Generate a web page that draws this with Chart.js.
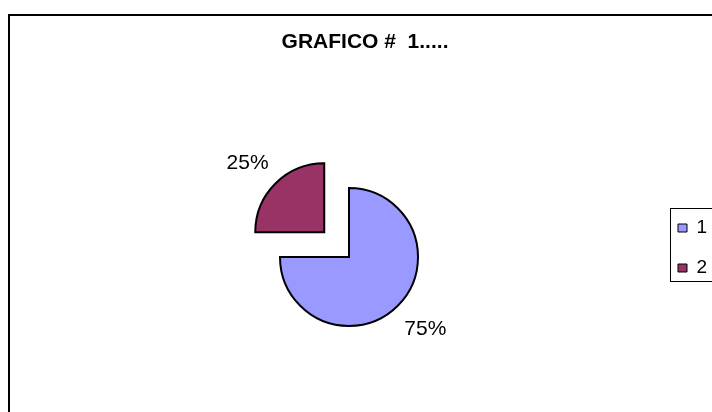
<!DOCTYPE html>
<html>
<head>
<meta charset="utf-8">
<script src="https://cdn.jsdelivr.net/npm/chart.js@4/dist/chart.umd.min.js"></script>
<style>
html,body{margin:0;padding:0;background:#fff;overflow:hidden;}
#wrap{position:relative;width:712px;height:412px;overflow:hidden;}
canvas{display:block;}
</style>
</head>
<body>
<div id="wrap"><canvas id="c" width="760" height="412"></canvas></div>
<script>
// ---- data ----
const categories = ['1', '2'];
const values = [75, 25];
const chartTitle = 'GRAFICO #  1.....';

// ---- styling ----
const sliceColors = ['#9999FF', '#993366'];
const FONT = '"Liberation Sans", Arial, Helvetica, sans-serif';
const LABEL_GAP = 16;
const LABEL_TILT = 3.5 * Math.PI / 180;

Chart.defaults.font.family = FONT;
Chart.defaults.color = '#000';

const framePlugin = {
  id: 'frame',
  beforeDraw(chart) {
    const ctx = chart.ctx;
    ctx.save();
    ctx.strokeStyle = '#000';
    ctx.lineWidth = 2;
    ctx.strokeRect(9, 15, chart.width + 40, chart.height + 40);
    ctx.restore();
  },
  afterDraw(chart) {
    const lg = chart.legend;
    if (!lg || !lg.legendHitBoxes || !lg.legendHitBoxes.length) return;
    const hb = lg.legendHitBoxes;
    const first = hb[0], last = hb[hb.length - 1];
    const fs = lg.options.labels.font.size;
    const left = first.left - 7.5;
    const top = first.top - 10;
    const bottom = last.top + fs + 4;
    const ctx = chart.ctx;
    ctx.save();
    ctx.strokeStyle = '#000';
    ctx.lineWidth = 1;
    ctx.strokeRect(left, top, 100, bottom - top);
    ctx.restore();
  }
};

const pctLabels = {
  id: 'pctLabels',
  afterDatasetsDraw(chart) {
    const ctx = chart.ctx;
    const meta = chart.getDatasetMeta(0);
    const vals = chart.data.datasets[0].data;
    const total = vals.reduce((a, b) => a + b, 0);
    ctx.save();
    ctx.font = '21px ' + FONT;
    ctx.fillStyle = '#000';
    ctx.textAlign = 'left';
    ctx.textBaseline = 'alphabetic';
    meta.data.forEach((arc, i) => {
      const p = arc.getProps(['x', 'y', 'startAngle', 'endAngle', 'outerRadius'], true);
      const mid = (p.startAngle + p.endAngle) / 2;
      const shift = (arc.options.offset || 0) / 4;
      const cx = p.x + Math.cos(mid) * shift;
      const cy = p.y + Math.sin(mid) * shift;
      const a = mid + LABEL_TILT;
      const ux = Math.cos(a), uy = Math.sin(a);
      const kx = cx + ux * (p.outerRadius + LABEL_GAP);
      const ky = cy + uy * (p.outerRadius + LABEL_GAP);
      const txt = Math.round(vals[i] / total * 100) + '%';
      const m = ctx.measureText(txt);
      const x = ux >= 0 ? kx + m.actualBoundingBoxLeft : kx - m.actualBoundingBoxRight;
      const y = uy >= 0 ? ky + m.actualBoundingBoxAscent : ky - m.actualBoundingBoxDescent;
      ctx.fillText(txt, x, y);
    });
    ctx.restore();
  }
};

new Chart(document.getElementById('c'), {
  type: 'pie',
  data: {
    labels: categories,
    datasets: [{
      data: values,
      backgroundColor: sliceColors,
      borderColor: '#000',
      borderWidth: 2,
      borderJoinStyle: 'miter',
      offset: [0, 140],
      hoverOffset: 0,
      radius: 69,
      clip: false
    }]
  },
  options: {
    responsive: false,
    animation: false,
    events: [],
    layout: { padding: { left: 13, right: 42.94, top: 0, bottom: 55 } },
    plugins: {
      title: {
        display: true,
        text: chartTitle,
        color: '#000',
        font: { size: 21, weight: 'bold', family: FONT },
        padding: { top: 30, bottom: 101.8 }
      },
      subtitle: {
        display: true,
        position: 'left',
        fullSize: false,
        text: '',
        font: { size: 10 },
        padding: { top: 16, bottom: 0 }
      },
      legend: {
        position: 'right',
        align: 'start',
        fullSize: false,
        title: { display: true, text: '', font: { size: 10 }, padding: { top: 28.5, bottom: 0 } },
        labels: {
          boxWidth: 9,
          boxHeight: 8,
          padding: 21,
          color: '#000',
          font: { size: 19, family: FONT },
          generateLabels(chart) {
            const ds = chart.data.datasets[0];
            return chart.data.labels.map((lab, i) => ({
              text: String(lab),
              fillStyle: ds.backgroundColor[i],
              strokeStyle: '#000',
              lineWidth: 1,
              fontColor: '#000',
              hidden: false,
              index: i
            }));
          }
        }
      },
      tooltip: { enabled: false }
    }
  },
  plugins: [framePlugin, pctLabels]
});
</script>
</body>
</html>
